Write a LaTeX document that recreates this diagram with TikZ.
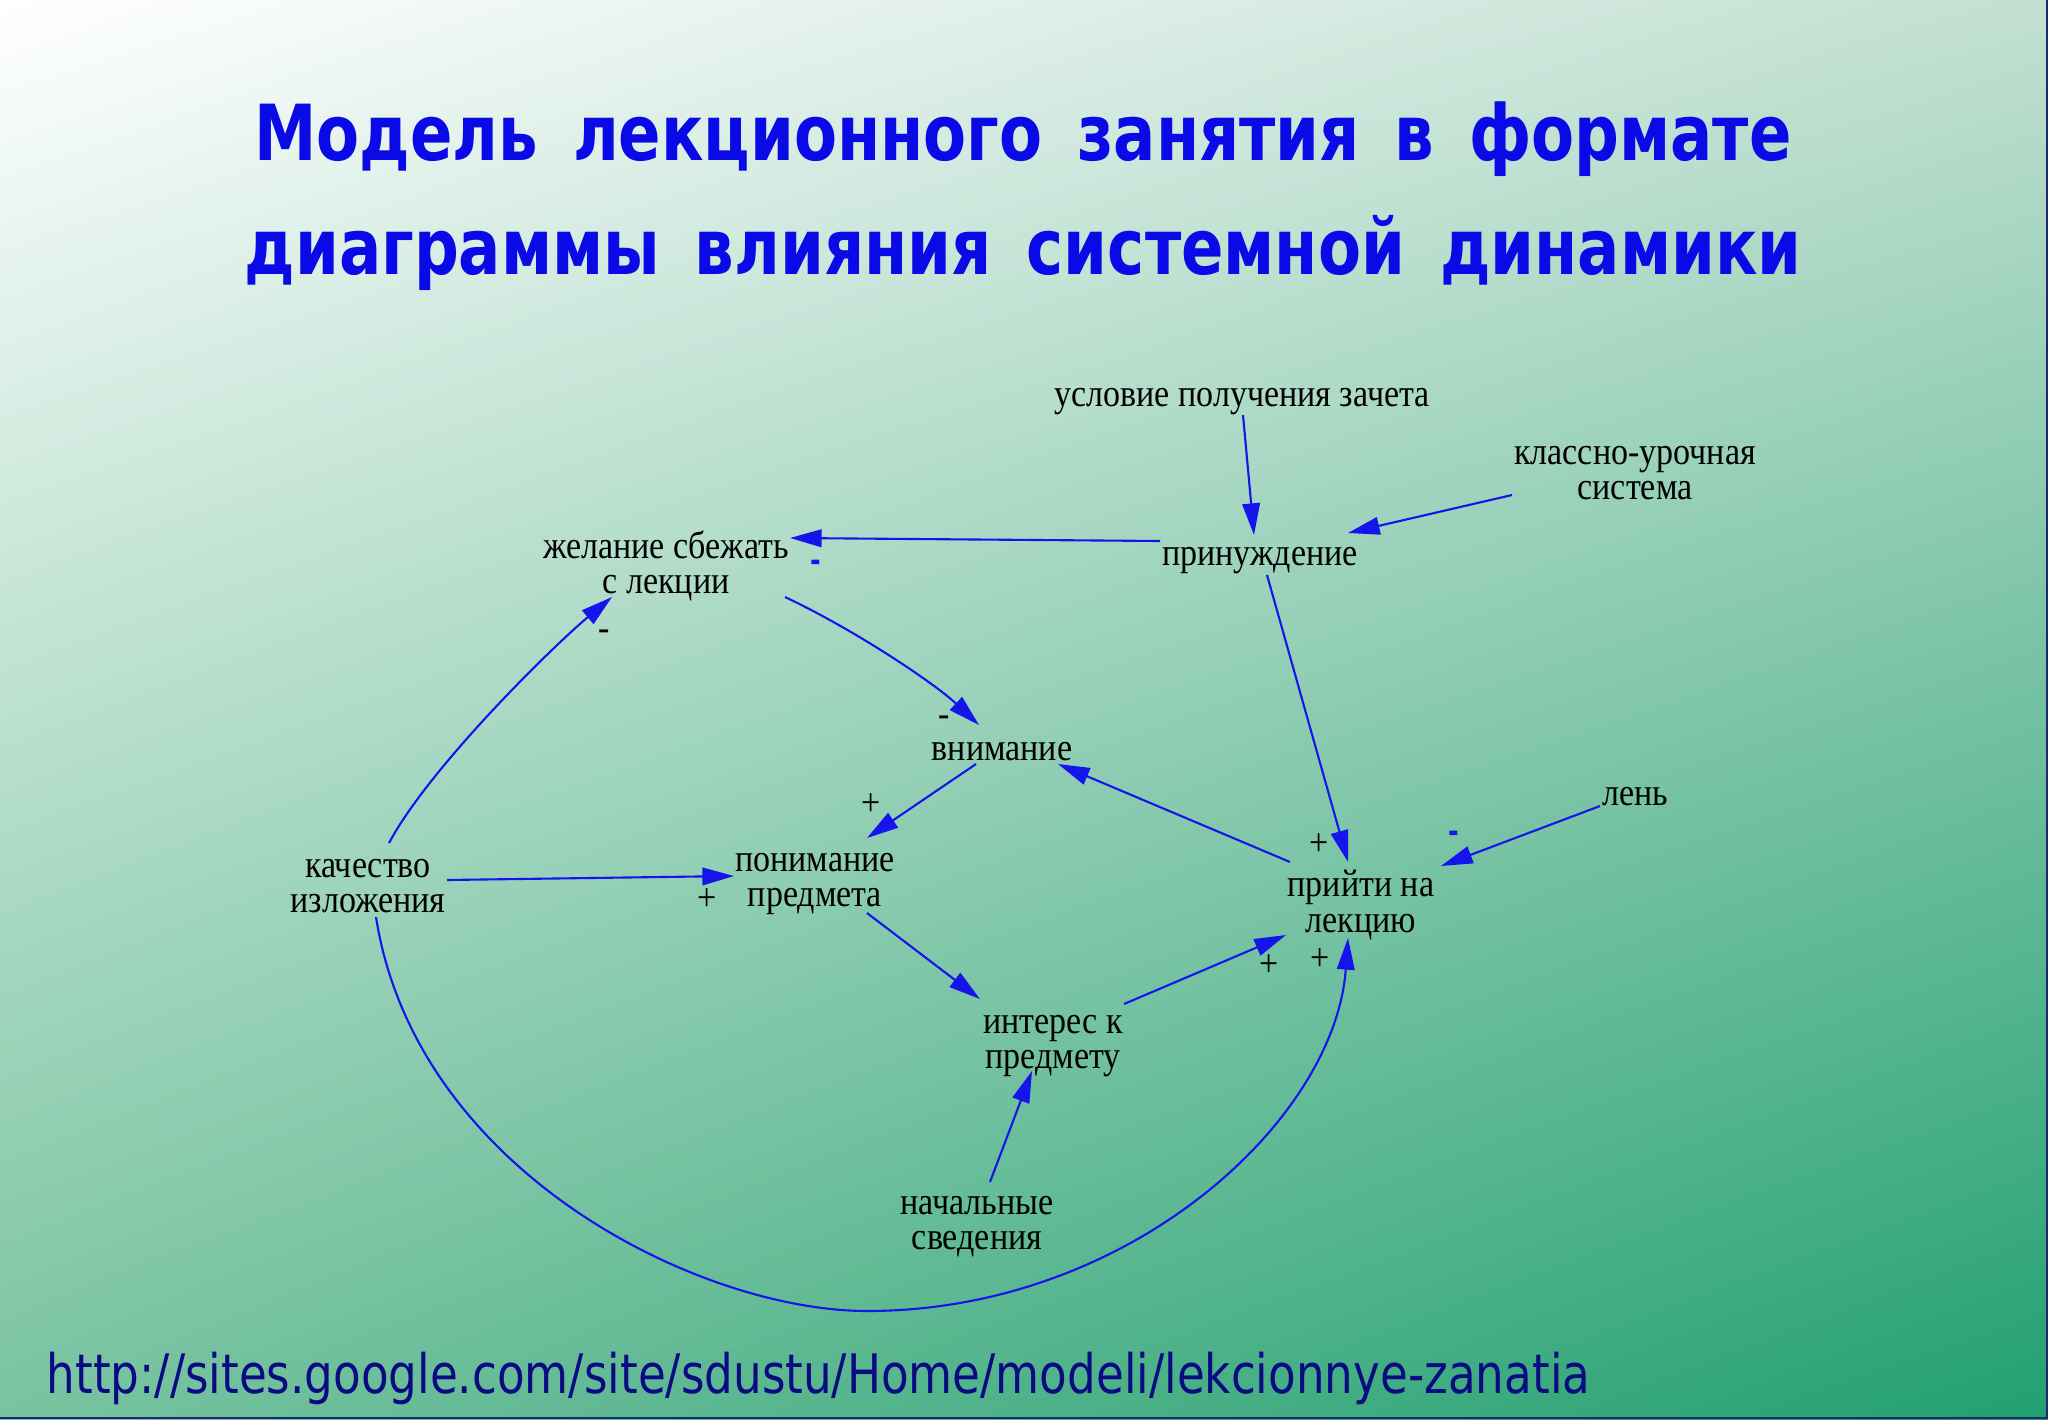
\documentclass[tikz,border=0pt]{standalone}
\usepackage{fontspec}
\setmainfont{Liberation Serif}[FakeStretch=0.88]
\newfontfamily\headfont{DejaVu Sans}[FakeStretch=0.81,WordSpace=1.6]
\newfontfamily\linkfont{DejaVu Sans}[FakeStretch=0.83]
\usetikzlibrary{arrows.meta,shadings}
\definecolor{bgTopRight}{RGB}{194,224,210}
\definecolor{bgBotLeft}{RGB}{120,195,160}
\definecolor{bgBotRight}{RGB}{34,160,112}
\definecolor{headBlue}{RGB}{10,10,230}
\definecolor{linkBlue}{RGB}{10,10,130}
\definecolor{arrowBlue}{RGB}{20,20,235}
\definecolor{frameNavy}{RGB}{30,40,110}

\begin{document}
\begin{tikzpicture}[x=0.1mm, y=-0.1mm,
    factor/.style ={font=\fontsize{11}{10}\selectfont, align=center,
      inner sep=0pt},
    sign/.style ={font=\fontsize{11}{10}\selectfont, inner sep=0pt},
    bluesign/.style ={font=\headfont\bfseries\fontsize{9}{9}\selectfont,
      text=arrowBlue, inner sep=0pt},
    line/.style ={draw=arrowBlue, line width=0.6pt,
      -{Triangle[length=9pt,width=5pt]}}]
    % background of the slide
    \shade[upper left=white, upper right=bgTopRight,
      lower left=bgBotLeft, lower right=bgBotRight] (0,0) rectangle (2048,1419);
    \useasboundingbox (0,0) rectangle (2048,1419);
    \draw[frameNavy, line width=0.6pt] (0,1418) -- (2047,1418) -- (2047,0);
    % heading - two lines
    \node[anchor=base, text=headBlue, font=\headfont\bfseries\fontsize{22}{22}\selectfont]
      (headA) at (1023,161) {Модель лекционного занятия в формате};
    \node[anchor=base, text=headBlue, font=\headfont\bfseries\fontsize{22}{22}\selectfont]
      (headB) at (1023,274) {диаграммы влияния системной динамики};
    % factors of the model
    \node[factor] (uslZach) at (1242,402) {условие получения зачета};
    \node[factor] (klassSys) at (1635,473) {классно-урочная\\система};
    \node[factor] (prinuzh) at (1260,561) {принуждение};
    \node[factor] (zhelPobeg) at (666,566) {желание сбежать\\с лекции};
    \node[factor] (vniman) at (1002,752) {внимание};
    \node[factor] (ponimPr) at (815,884) {понимание\\предмета};
    \node[factor] (kachIzl) at (368,886) {качество\\изложения};
    \node[factor] (priytiLek) at (1361,905) {прийти на\\лекцию};
    \node[factor] (lenFac) at (1635,797) {лень};
    \node[factor] (interPr) at (1053,1046) {интерес к\\предмету};
    \node[factor] (nachSved) at (977,1227) {начальные\\сведения};
    % polarity marks
    \node[bluesign] (sgnPrinZhel) at (816,566) {-};
    \node[sign] (sgnPrinPri) at (1319,845) {+};
    \node[sign] (sgnKachZhel) at (604,635) {-};
    \node[sign] (sgnZhelVn) at (944,721) {-};
    \node[sign] (sgnVnPon) at (871,805) {+};
    \node[sign] (sgnKachPon) at (707,900) {+};
    \node[sign] (sgnIntPri) at (1269,966) {+};
    \node[sign] (sgnKachPri) at (1320,960) {+};
    \node[bluesign] (sgnLenPri) at (1454,837) {-};
    \coordinate (loopLow) at (867,1311);
    % connecting factors with paths
    \begin{scope}[every path/.style=line]
      \path ([shift={(1,13)}]uslZach.center) -- ([shift={(-6,-26)}]prinuzh.center);
      \path ([shift={(-123,22)}]klassSys.center) -- ([shift={(88,-28)}]prinuzh.center);
      \path ([shift={(-100,-20)}]prinuzh.center) -- ([shift={(124,-28)}]zhelPobeg.center);
      \path ([shift={(7,14)}]prinuzh.center) -- ([shift={(-13,-43)}]priytiLek.center);
      \path ([shift={(21,-43)}]kachIzl.center) .. controls +(40,-75) and +(-60,50)
        .. ([shift={(-54,31)}]zhelPobeg.center);
      \path ([shift={(119,31)}]zhelPobeg.center) .. controls +(70,33) and +(-45,-42)
        .. ([shift={(-23,-27)}]vniman.center);
      \path ([shift={(-26,12)}]vniman.center) -- ([shift={(52,-46)}]ponimPr.center);
      \path ([shift={(-71,-43)}]priytiLek.center) -- ([shift={(56,12)}]vniman.center);
      \path ([shift={(79,-6)}]kachIzl.center) -- ([shift={(-81,-8)}]ponimPr.center);
      \path ([shift={(52,29)}]ponimPr.center) -- ([shift={(-73,-47)}]interPr.center);
      \path ([shift={(71,-42)}]interPr.center) -- ([shift={(-75,30)}]priytiLek.center);
      \path ([shift={(8,31)}]kachIzl.center) .. controls +(40,255) and +(-167,0) .. (loopLow)
        .. controls +(263,0) and +(-13,182) .. ([shift={(-13,33)}]priytiLek.center);
      \path ([shift={(13,-45)}]nachSved.center) -- ([shift={(-21,25)}]interPr.center);
      \path ([shift={(-35,9)}]lenFac.center) -- ([shift={(80,-39)}]priytiLek.center);
    \end{scope}
    % link at the bottom
    \node[anchor=base west, inner sep=0pt, text=linkBlue,
      font=\linkfont\fontsize{15.5}{16}\selectfont] (siteLink) at (46,1393)
      {http://sites.google.com/site/sdustu/Home/modeli/lekcionnye-zanatia};
\end{tikzpicture}
\end{document}
